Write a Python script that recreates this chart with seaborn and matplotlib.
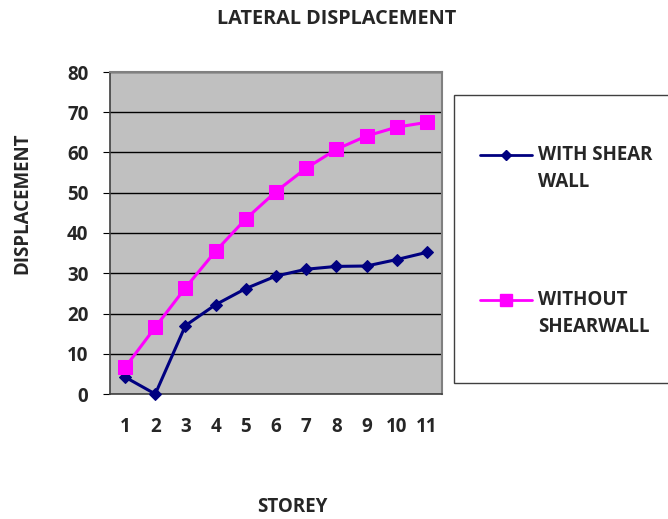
import matplotlib
matplotlib.use("Agg")
import matplotlib.pyplot as plt
import seaborn as sns
import pandas as pd
from matplotlib.patches import Rectangle
from matplotlib.lines import Line2D

storeys = ["1", "2", "3", "4", "5", "6", "7", "8", "9", "10", "11"]
with_shear = [4.2, 0.0, 17.0, 22.2, 26.2, 29.3, 31.0, 31.7, 31.8, 33.4, 35.2]
without_shear = [6.6, 16.6, 26.4, 35.5, 43.5, 50.3, 56.1, 60.8, 64.1, 66.3, 67.5]
series_names = ["WITH SHEAR\nWALL", "WITHOUT\nSHEARWALL"]

df = pd.DataFrame({
    "pos": list(range(len(storeys))) * 2,
    "value": with_shear + without_shear,
    "series": [series_names[0]] * len(storeys) + [series_names[1]] * len(storeys),
})

sns.set_style("white")
plt.rcParams["font.family"] = ["Open Sans", "DejaVu Sans"]
plt.rcParams["font.weight"] = "bold"
FS = 13.5

fig = plt.figure(figsize=(6.68, 5.19), dpi=100)
ax = fig.add_axes([110 / 668, 1 - 394 / 519, 332 / 668, 322 / 519])
ax.set_facecolor("#C0C0C0")

colors = {series_names[0]: "#000080", series_names[1]: "#FF00FF"}
markers = {series_names[0]: "D", series_names[1]: "s"}
sizes = {series_names[0]: 6.5, series_names[1]: 10}
for name in series_names:
    sub = df[df["series"] == name]
    sns.lineplot(data=sub, x="pos", y="value", color=colors[name], marker=markers[name],
                 markersize=sizes[name], markeredgecolor=colors[name], linewidth=2.2,
                 ax=ax, legend=False, zorder=3, clip_on=False)

ax.set_xlim(-0.5, len(storeys) - 0.5)
ax.set_ylim(0, 80)
ax.set_yticks(range(0, 81, 10))
ax.yaxis.grid(True, color="black", linewidth=1)
ax.set_axisbelow(True)
ax.set_xticks(range(len(storeys)))
ax.set_xticklabels(storeys, fontsize=FS, fontweight="bold")
ax.set_xticks([i - 0.5 for i in range(len(storeys) + 1)], minor=True)
ax.tick_params(axis="x", which="major", length=0, pad=16.5)
ax.tick_params(axis="x", which="minor", length=5, color="black", direction="out")
ax.tick_params(axis="y", length=5, color="black", direction="out", left=True, pad=10.5, labelsize=FS)
for lab in ax.get_yticklabels():
    lab.set_fontweight("bold")
ax.set_xlabel("")
ax.set_ylabel("")
for side in ["top", "right"]:
    ax.spines[side].set_color("#808080")
    ax.spines[side].set_linewidth(1.5)
for side in ["left", "bottom"]:
    ax.spines[side].set_color("#404040")
    ax.spines[side].set_linewidth(1.2)

fig.text(337 / 668, 1 - 19 / 519, "LATERAL DISPLACEMENT", ha="center", va="center",
         fontsize=14.3, fontweight="bold")
fig.text(22 / 668, 1 - 203 / 519, "DISPLACEMENT", ha="center", va="center",
         rotation=90, fontsize=FS, fontweight="bold")
fig.text(292 / 668, 1 - 507 / 519, "STOREY", ha="center", va="center",
         fontsize=FS, fontweight="bold")

# legend box, drawn by hand so the marker sits level with the first text line
fig.patches.append(Rectangle((454 / 668, 1 - 383 / 519), 230 / 668, 288 / 519,
                             transform=fig.transFigure, facecolor="white",
                             edgecolor="#404040", linewidth=1))
legend_rows = [155, 300]
for name, row in zip(series_names, legend_rows):
    yf = 1 - row / 519
    fig.add_artist(Line2D([480 / 668, 532 / 668], [yf, yf], transform=fig.transFigure,
                          color=colors[name], linewidth=2))
    fig.add_artist(Line2D([506 / 668], [yf], transform=fig.transFigure, color=colors[name],
                          marker=markers[name], markersize=sizes[name] - 1,
                          markeredgecolor=colors[name]))
    fig.text(538 / 668, yf, name, ha="left", va="top", fontsize=FS, fontweight="bold",
             linespacing=1.45, transform=fig.transFigure)

# shift text so first line centre aligns with the handle
for t in fig.texts[-2:]:
    x, y = t.get_position()
    t.set_position((x, y + 10 / 519))

fig.savefig("out.png", dpi=100)
